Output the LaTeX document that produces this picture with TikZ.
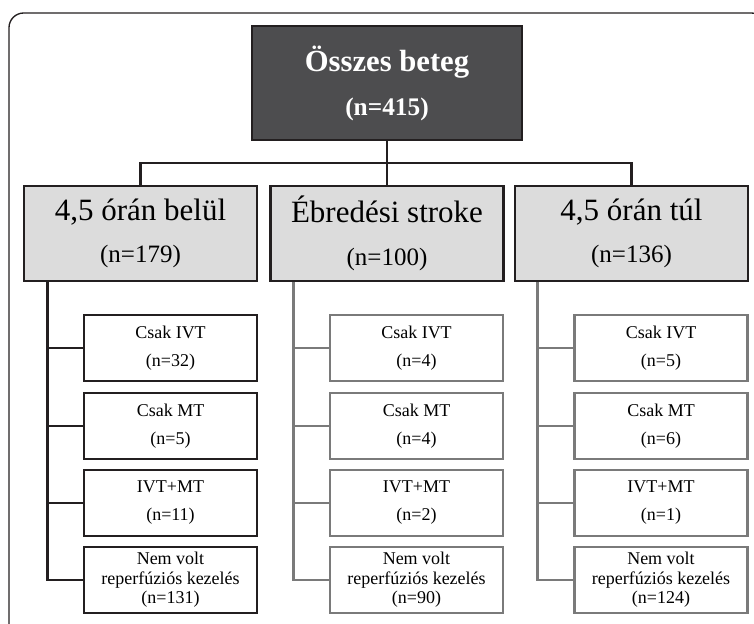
\documentclass[tikz,border=0pt]{standalone}
\usepackage{fontspec}
\setmainfont{Liberation Serif}
\definecolor{ink}{HTML}{231F20}
\definecolor{lgray}{HTML}{7A7A7A}
\definecolor{topfill}{HTML}{4D4D4F}
\definecolor{boxfill}{HTML}{DCDCDC}
\begin{document}
\begin{tikzpicture}[x=0.75pt, y=-0.75pt, line width=2.2pt,
  topbox/.style={draw=ink, fill=topfill, text=white, align=center, inner sep=0pt,
    minimum width=202.5pt, minimum height=85.5pt, font=\bfseries\fontsize{19}{33}\selectfont},
  groupbox/.style={draw=ink, fill=boxfill, align=center, inner sep=0pt,
    minimum width=174.75pt, minimum height=71.25pt, font=\fontsize{18.75}{32}\selectfont},
  subbox/.style={draw=#1, fill=white, align=center, inner sep=0pt,
    minimum width=129.75pt, minimum height=49.5pt, font=\fontsize{13.5}{21}\selectfont},
  longbox/.style={subbox=#1, font=\fontsize{13.5}{14.6}\selectfont}]
  \useasboundingbox (0,0) rectangle (754,624);
  \clip (0,0) rectangle (754,624);
  \draw[ink, line width=1pt, rounded corners=11pt] (9,13) rectangle (766,640);

  % top and group boxes
  \node[topbox] (O) at (387,83) {{\fontsize{23}{33}\selectfont Összes beteg}\\(n=415)};
  \node[groupbox] (B) at (140.5,233.5) {{\fontsize{23.25}{32}\selectfont 4,5 órán belül}\\(n=179)};
  \node[groupbox] (E) at (387,233.5) {{\fontsize{23.25}{32}\selectfont Ébredési stroke}\\(n=100)};
  \node[groupbox] (T) at (631.5,233.5) {{\fontsize{23.25}{32}\selectfont 4,5 órán túl}\\(n=136)};

  \coordinate (bus) at (387,163);
  \draw[ink] (O) -- (bus);
  \draw[ink] (B.north) |- (bus) -| (T.north);
  \draw[ink] (bus) -- (E.north);

  % sub boxes
  \node[subbox=ink] (B1) at (170.5,348) {Csak IVT\\(n=32)};
  \node[subbox=ink] (B2) at (170.5,426) {Csak MT\\(n=5)};
  \node[subbox=ink] (B3) at (170.5,503) {IVT+MT\\(n=11)};
  \node[longbox=ink] (B4) at (170.5,580) {Nem volt\\reperfúziós kezelés\\(n=131)};

  \node[subbox=lgray] (E1) at (416.5,348) {Csak IVT\\(n=4)};
  \node[subbox=lgray] (E2) at (416.5,426) {Csak MT\\(n=4)};
  \node[subbox=lgray] (E3) at (416.5,503) {IVT+MT\\(n=2)};
  \node[longbox=lgray] (E4) at (416.5,580) {Nem volt\\reperfúziós kezelés\\(n=90)};

  \node[subbox=lgray] (T1) at (661,348) {Csak IVT\\(n=5)};
  \node[subbox=lgray] (T2) at (661,426) {Csak MT\\(n=6)};
  \node[subbox=lgray] (T3) at (661,503) {IVT+MT\\(n=1)};
  \node[longbox=lgray] (T4) at (661,580) {Nem volt\\reperfúziós kezelés\\(n=124)};

  % trunks
  \path (B.south west) ++(25,0) coordinate (Bt);
  \path (E.south west) ++(24,0) coordinate (Et);
  \path (T.south west) ++(24,0) coordinate (Tt);
  \draw[ink] (Bt) |- (B4.west) (Bt) |- (B1.west) (Bt) |- (B2.west) (Bt) |- (B3.west);
  \draw[lgray] (Et) |- (E4.west) (Et) |- (E1.west) (Et) |- (E2.west) (Et) |- (E3.west);
  \draw[lgray] (Tt) |- (T4.west) (Tt) |- (T1.west) (Tt) |- (T2.west) (Tt) |- (T3.west);
\end{tikzpicture}
\end{document}
